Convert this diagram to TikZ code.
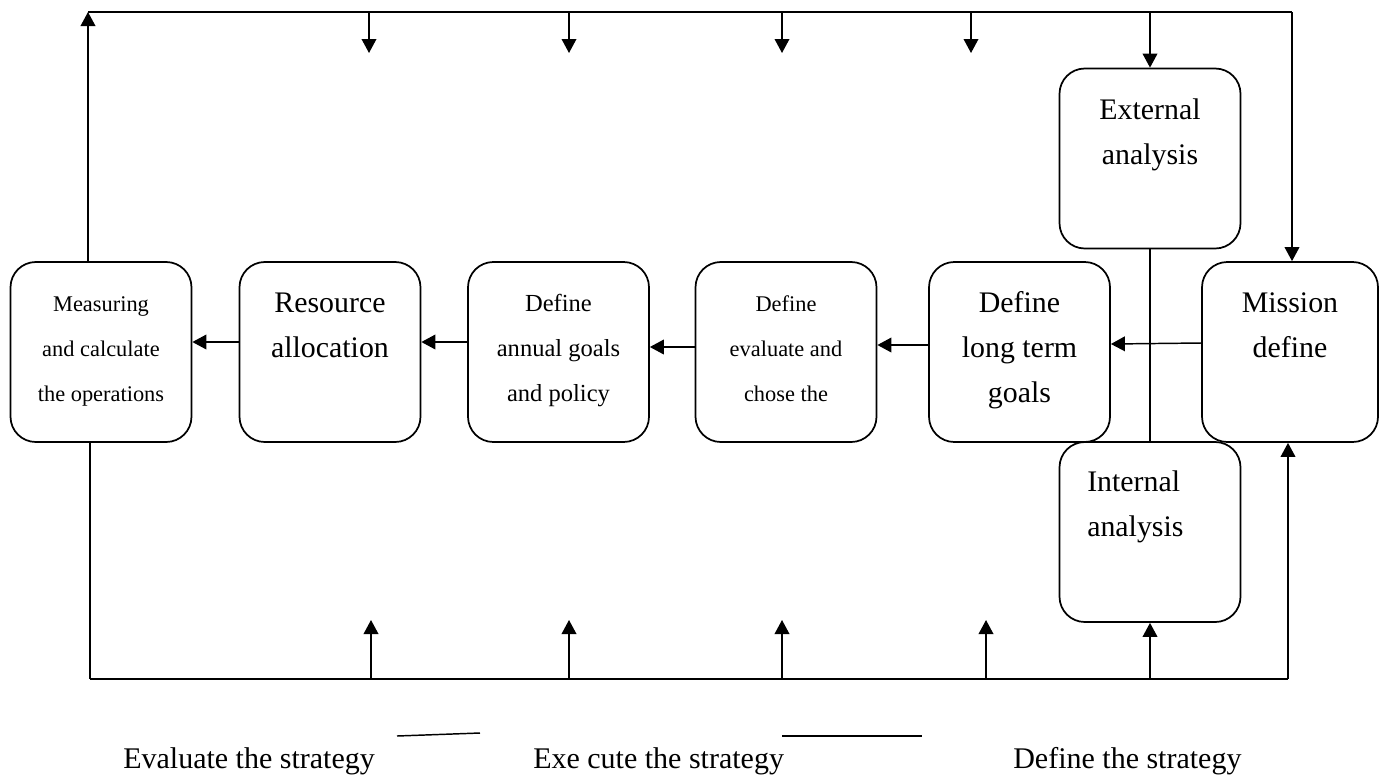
\documentclass[tikz,border=0pt]{standalone}
\usepackage{fontspec}
\setmainfont{Liberation Serif}
\usetikzlibrary{arrows.meta,calc}
\newcommand\mylines[2][c]{\begin{tabular}[t]{@{}#1@{}}#2\end{tabular}}
\begin{document}
\begin{tikzpicture}[x=0.75pt,y=-0.75pt,
 box/.style={draw, line width=1.3pt, rounded corners=19pt, minimum width=135.75pt, minimum height=135pt, inner sep=0pt},
 arr/.style={line width=1.1pt, -{Triangle[length=10.5pt,width=11pt]}},
 ln/.style={line width=1.1pt},
 big/.style={font=\fontsize{22.4}{33.75}\selectfont},
 mid/.style={font=\fontsize{18.4}{33.75}\selectfont},
 sml/.style={font=\fontsize{16.8}{33.75}\selectfont},
 txt/.style={anchor=base, inner sep=0pt}]
\useasboundingbox (0,0) rectangle (1380,779);

% boxes
\node[box] (mes) at (101,352) {};
\node[box] (res) at (330,352) {};
\node[box] (ann) at (558.5,352) {};
\node[box] (eva) at (786,352) {};
\node[box] (lng) at (1019.5,352) {};
\node[box, minimum width=132pt] (mis) at (1290,352) {};
\node[box] (ext) at (1150,158.5) {};
\node[box] (int) at (1150,532) {};

% texts
\node[txt,sml] (mesT) at (101,311) {\mylines{Measuring\\and calculate\\the operations}};
\node[txt,big] (resT) at (330,312) {\mylines{Resource\\allocation}};
\node[txt,mid] (annT) at (558.5,311) {\mylines{Define\\annual goals\\and policy}};
\node[txt,sml] (evaT) at (786,311) {\mylines{Define\\evaluate and\\chose the}};
\node[txt,big] (lngT) at (1019.5,312) {\mylines{Define\\long term\\goals}};
\node[txt,big] (misT) at (1290,312) {\mylines{Mission\\define}};
\node[txt,big] (extT) at (1150,119) {\mylines{External\\analysis}};
\node[txt,big,anchor=base west] (intT) at (1087,491) {\mylines[l]{Internal\\analysis}};

% arrows between boxes
\draw[arr] ($(mis.west)+(0,-9)$) -- ($(lng.east)+(0,-8)$);
\draw[arr] ($(lng.west)+(0,-7)$) -- ($(eva.east)+(0,-7)$);
\draw[arr] ($(eva.west)+(0,-5)$) -- ($(ann.east)+(0,-5)$);
\draw[arr] ($(ann.west)+(0,-10)$) -- ($(res.east)+(0,-10)$);
\draw[arr] ($(res.west)+(0,-10)$) -- ($(mes.east)+(0,-10)$);

% top frame
\coordinate (tl) at (88,12);
\coordinate (tr) at (1292,12);
\draw[arr] (tl |- mes.north) -- (tl);
\draw[ln] (tl) -- (tr);
\draw[arr] (tr) -- (tr |- mis.north);
\draw[arr] (tl -| ext.north) -- (ext.north);
\foreach \i/\x in {1/369,2/569,3/782,4/971} {
  \coordinate (ts\i) at (\x,12); \coordinate (te\i) at (\x,53);
  \draw[arr] (ts\i) -- (te\i);
}
\draw[ln] (ext.south) -- (int.north);

% bottom frame
\coordinate (bl) at (90,679);
\coordinate (br) at (1288,679);
\draw[ln] (bl |- mes.south) -- (bl);
\draw[line width=1.5pt] (bl) -- (br);
\draw[arr] (br) -- (br |- mis.south);
\draw[arr] (bl -| int.south) -- (int.south);
\foreach \i/\x in {1/371,2/569,3/782,4/986} {
  \coordinate (bs\i) at (\x,679); \coordinate (be\i) at (\x,620);
  \draw[arr] (bs\i) -- (be\i);
}

% bottom labels
\node[txt, anchor=base west, font=\fontsize{22.5}{27}\selectfont] (lab1) at (123,768) {Evaluate the strategy};
\node[txt, anchor=base west, font=\fontsize{22.5}{27}\selectfont] (lab2) at (533,768) {Exe cute the strategy};
\node[txt, anchor=base west, font=\fontsize{22.5}{27}\selectfont] (lab3) at (1013,768) {Define the strategy};
\coordinate (u1a) at (397,736); \coordinate (u1b) at (480,733);
\draw[ln] (u1a) -- (u1b);
\coordinate (u2a) at (782,736); \coordinate (u2b) at (922,736);
\draw[ln] (u2a) -- (u2b);
\end{tikzpicture}
\end{document}
